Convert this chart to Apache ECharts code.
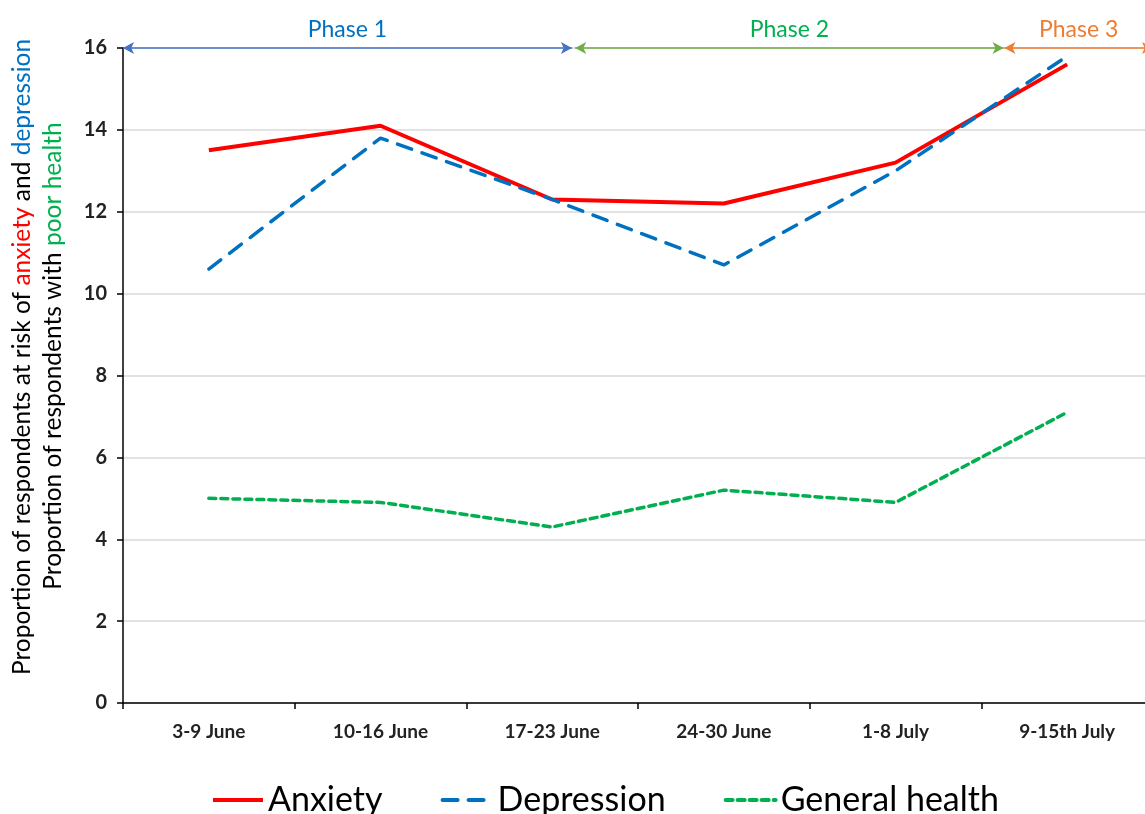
<!DOCTYPE html>
<html>
<head>
<meta charset="utf-8">
<script src="https://cdn.jsdelivr.net/npm/echarts@6/dist/echarts.min.js"></script>
<style>html,body{margin:0;padding:0;background:#fff;overflow:hidden;width:1145px;height:814px;}#c{width:1160px;height:814px;}</style>
</head>
<body>
<div id="c"></div>
<script>
const categories = ['3-9 June', '10-16 June', '17-23 June', '24-30 June', '1-8 July', '9-15th July'];
const anxiety = [13.5, 14.1, 12.3, 12.2, 13.2, 15.6];
const depression = [10.6, 13.8, 12.3, 10.7, 13.0, 15.8];
const generalHealth = [5.0, 4.9, 4.3, 5.2, 4.9, 7.1];
const yTicks = [0, 2, 4, 6, 8, 10, 12, 14, 16];
// phase spans in category-width units (0 = left edge of first category)
const phaseNames = ['Phase 1', 'Phase 2', 'Phase 3'];
const phaseStart = [0, 2.634, 5.134];
const phaseEnd = [2.615, 5.13, 6];
const phaseLevel = 16;

const FONT = 'Lato, "Open Sans", sans-serif';
const phaseLineColors = ['#4472C4', '#70AD47', '#ED7D31'];
const phaseTextColors = ['#0070C0', '#00B050', '#ED7D31'];

const phaseMarks = phaseNames.map((n, i) => [
  {coord: [phaseStart[i], phaseLevel], name: n,
   lineStyle: {color: phaseLineColors[i], width: 1.5, type: 'solid'},
   label: {show: true, position: 'middle', formatter: n, color: phaseTextColors[i],
           fontSize: 23, fontFamily: FONT, distance: 7}},
  {coord: [phaseEnd[i], phaseLevel]}
]);

const chart = echarts.init(document.getElementById('c'), null, {renderer: 'canvas'});
chart.setOption({
  animation: false,
  backgroundColor: '#fff',
  grid: {left: 123, right: 7, top: 48, bottom: 111, containLabel: false},
  legend: {
    top: 778, left: 206,
    itemWidth: 50, itemHeight: 14, itemGap: 58,
    itemStyle: {opacity: 0},
    lineStyle: {width: 4},
    textStyle: {fontSize: 34, fontFamily: FONT, color: '#000'},
    data: ['Anxiety', 'Depression', 'General health']
  },
  xAxis: [{
    type: 'category', data: categories,
    axisLine: {lineStyle: {color: '#000', width: 1.5}},
    axisTick: {show: true, length: 6, lineStyle: {color: '#000', width: 1.5}},
    axisLabel: {fontSize: 19, fontWeight: 'bold', fontFamily: FONT, color: '#222', margin: 19},
    splitLine: {show: false}
  }, {
    type: 'value', min: 0, max: 6, show: false
  }],
  yAxis: {
    type: 'value', min: yTicks[0], max: yTicks[yTicks.length - 1], interval: 2,
    axisLine: {show: true, lineStyle: {color: '#000', width: 1.5}},
    axisTick: {show: true, length: 6, lineStyle: {color: '#000', width: 1.5}},
    axisLabel: {fontSize: 20, fontWeight: 'bold', fontFamily: FONT, color: '#222', margin: 16},
    splitLine: {show: true, lineStyle: {color: '#D9D9D9', width: 1.5}}
  },
  graphic: [{
    type: 'text', x: 22, y: 357, rotation: Math.PI / 2,
    style: {
      text: '{b|Proportion of respondents at risk of }{r|anxiety}{b| and }{u|depression}',
      align: 'center', verticalAlign: 'middle',
      rich: {
        b: {fill: '#000', fontSize: 24.5, fontFamily: FONT},
        r: {fill: '#FF0000', fontSize: 24.5, fontFamily: FONT},
        u: {fill: '#0070C0', fontSize: 24.5, fontFamily: FONT}
      }
    }
  }, {
    type: 'text', x: 53, y: 356, rotation: Math.PI / 2,
    style: {
      text: '{b|Proportion of respondents with }{g|poor health}',
      align: 'center', verticalAlign: 'middle',
      rich: {
        b: {fill: '#000', fontSize: 24.5, fontFamily: FONT},
        g: {fill: '#00B050', fontSize: 24.5, fontFamily: FONT}
      }
    }
  }],
  series: [{
    name: 'Anxiety', type: 'line', data: anxiety, symbol: 'none',
    lineStyle: {color: '#FF0000', width: 4, type: 'solid'},
    itemStyle: {color: '#FF0000'}, z: 4
  }, {
    name: 'Depression', type: 'line', data: depression, symbol: 'none',
    lineStyle: {color: '#0070C0', width: 3.5, type: [15, 11], cap: 'round'},
    itemStyle: {color: '#0070C0'}, z: 5
  }, {
    name: 'General health', type: 'line', data: generalHealth, symbol: 'none',
    lineStyle: {color: '#00B050', width: 3.5, type: [7, 5], cap: 'round'},
    itemStyle: {color: '#00B050'}, z: 3
  }, {
    name: 'phases', type: 'line', xAxisIndex: 1, data: [], symbol: 'none',
    markLine: {
      silent: true, symbol: ['arrow', 'arrow'], symbolSize: [9, 11],
      data: phaseMarks
    }
  }]
});
</script>
</body>
</html>
